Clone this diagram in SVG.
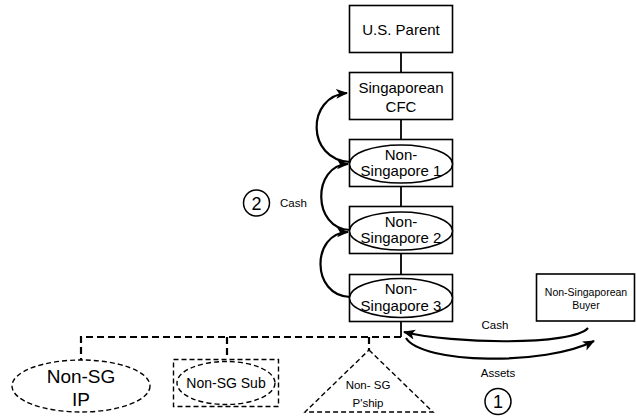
<svg xmlns="http://www.w3.org/2000/svg" width="636" height="417" viewBox="0 0 636 417">
<style>
text{font-family:"Liberation Sans",Arial,sans-serif;fill:#000;text-anchor:middle}
.box{fill:#fff;stroke:#000;stroke-width:1.6}
.ell{fill:#fff;stroke:#000;stroke-width:1.5}
.dshape{fill:none;stroke:#000;stroke-width:1.4;stroke-dasharray:5 3}
.dconn{fill:none;stroke:#000;stroke-width:2.2;stroke-dasharray:7 4}
.conn{fill:none;stroke:#000;stroke-width:1.8}
.arr{fill:none;stroke:#000;stroke-width:2.2;marker-end:url(#ah)}
.num{fill:#fff;stroke:#000;stroke-width:1.5}
</style>
<defs>
<marker id="ah" markerUnits="userSpaceOnUse" markerWidth="14" markerHeight="12" refX="11" refY="5" orient="auto">
<path d="M0,0 L12,5 L0,10 L3,5 Z" fill="#000"/>
</marker>
</defs>
<g id="connectors">
<line class="conn" x1="401" y1="52" x2="401" y2="337"/>
<path class="dconn" d="M401,337 H81 V360"/>
<path class="dconn" d="M227,337 V359"/>
<path class="dconn" d="M369,337 V350"/>
<path class="arr" d="M350,297 C311,296 311,233 348,232"/>
<path class="arr" d="M350,230 C312,229 312,165 348,164"/>
<path class="arr" d="M350,162 C306,160 306,96 347,93"/>
<path class="arr" d="M588,328 C572,346 452,344 404,332"/>
<path class="arr" d="M406,338 C422,364 545,366 594,341"/>
</g>
<g id="us-parent">
<rect class="box" x="349.5" y="5.5" width="103" height="47"/>
<text x="401" y="35" font-size="15">U.S. Parent</text>
</g>
<g id="singaporean-cfc">
<rect class="box" x="349.5" y="72.5" width="103" height="47"/>
<text x="401" y="93" font-size="15">Singaporean</text>
<text x="401" y="111.5" font-size="15">CFC</text>
</g>
<g id="non-singapore-1">
<rect class="box" x="349.5" y="139.5" width="103" height="47"/>
<ellipse class="ell" cx="401" cy="164" rx="51.5" ry="19"/>
<text x="401" y="160" font-size="15">Non-</text>
<text x="401" y="176" font-size="15">Singapore 1</text>
</g>
<g id="non-singapore-2">
<rect class="box" x="349.5" y="206.5" width="103" height="47"/>
<ellipse class="ell" cx="401" cy="231" rx="51.5" ry="19"/>
<text x="401" y="227" font-size="15">Non-</text>
<text x="401" y="243" font-size="15">Singapore 2</text>
</g>
<g id="non-singapore-3">
<rect class="box" x="349.5" y="274.5" width="103" height="47"/>
<ellipse class="ell" cx="401" cy="298" rx="51.5" ry="19.5"/>
<text x="401" y="294" font-size="15">Non-</text>
<text x="401" y="311" font-size="15">Singapore 3</text>
</g>
<g id="non-singaporean-buyer">
<rect class="box" x="536.5" y="274" width="98" height="47"/>
<text x="586" y="296" font-size="10.5">Non-Singaporean</text>
<text x="586" y="309" font-size="10.5">Buyer</text>
</g>
<g id="non-sg-ip">
<ellipse class="dshape" cx="81" cy="386" rx="69" ry="26"/>
<text x="81" y="383" font-size="19">Non-SG</text>
<text x="81" y="406" font-size="19">IP</text>
</g>
<g id="non-sg-sub">
<rect class="dshape" x="173.5" y="359.5" width="105" height="47"/>
<ellipse class="dshape" cx="226" cy="383" rx="49" ry="21.5"/>
<text x="226" y="388" font-size="14">Non-SG Sub</text>
</g>
<g id="non-sg-pship">
<path class="dshape" d="M369,350 L433,412 L305,412 Z"/>
<text x="368" y="389" font-size="11.5">Non- SG</text>
<text x="368" y="407" font-size="11.5">P'ship</text>
</g>
<g id="label-2">
<circle class="num" cx="256.5" cy="203" r="13"/>
<text x="256.5" y="209.5" font-size="18">2</text>
<text x="280" y="207" font-size="11.5" style="text-anchor:start">Cash</text>
</g>
<g id="label-1">
<text x="495" y="329" font-size="11.5">Cash</text>
<text x="498" y="377" font-size="11.5">Assets</text>
<circle class="num" cx="498" cy="401.5" r="13"/>
<text x="498" y="408" font-size="18">1</text>
</g>
</svg>
